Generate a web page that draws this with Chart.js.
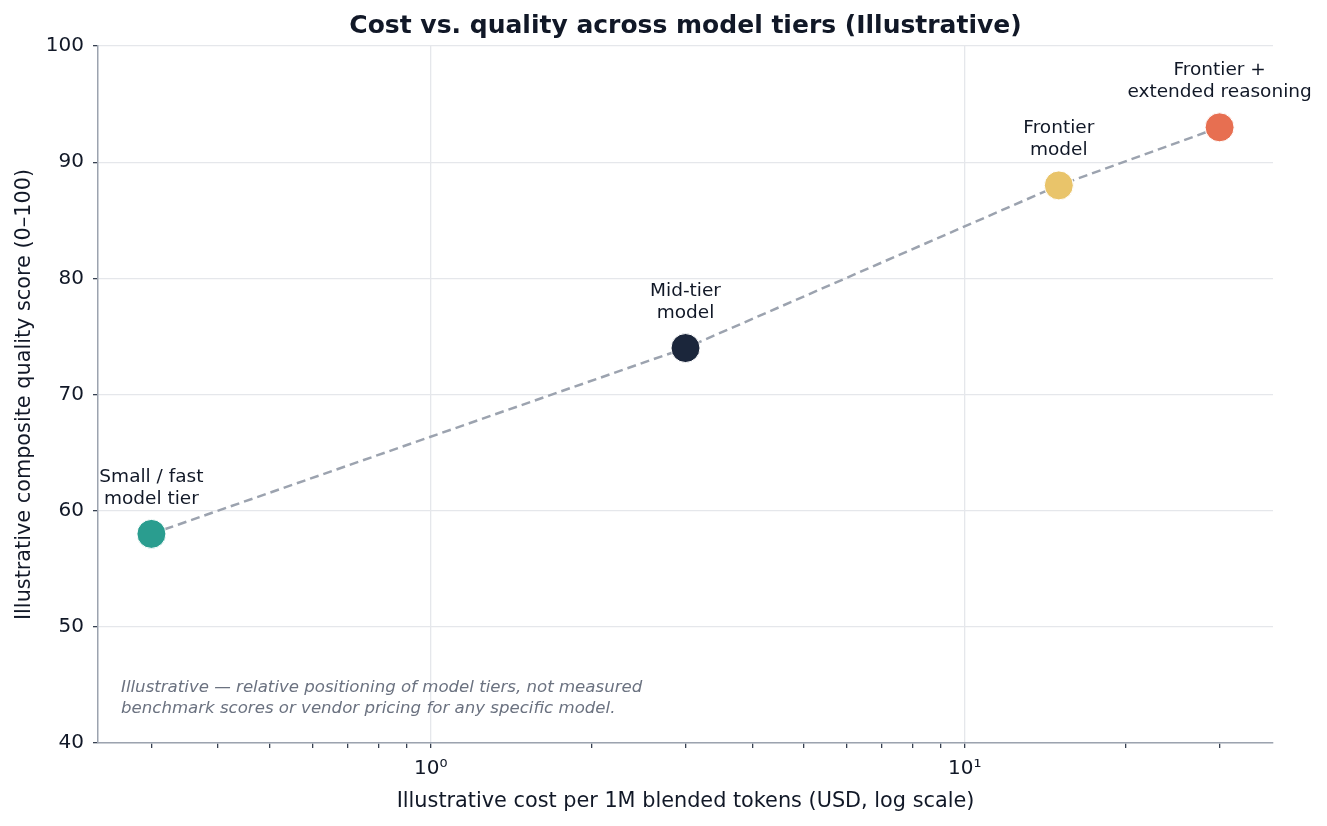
<!DOCTYPE html>
<html>
<head>
<meta charset="utf-8">
<script src="https://cdn.jsdelivr.net/npm/chart.js@4/dist/chart.umd.min.js"></script>
<style>
  html, body { margin: 0; padding: 0; background: #fff; }
  #wrap { width: 1327px; height: 826px; }
</style>
</head>
<body>
<div id="wrap"><canvas id="c" width="1327" height="826"></canvas></div>
<script>
// model tiers (illustrative)
const tierNames = [["Small / fast", "model tier"], ["Mid-tier", "model"], ["Frontier", "model"], ["Frontier +", "extended reasoning"]];
const costs = [0.3, 3, 15, 30];
const quality = [58, 74, 88, 93];
const tierColors = ["#2a9d8f", "#1b263b", "#e9c46a", "#e76f51"];
const xTicks = [0.3, 0.4, 0.5, 0.6, 0.7, 0.8, 0.9, 1, 2, 3, 4, 5, 6, 7, 8, 9, 10, 20, 30];
const yTicks = [40, 50, 60, 70, 80, 90, 100];

const textColor = "#111827";
const gridColor = "#e5e7eb";
const spineColor = "#9ca3af";
const font = "'DejaVu Sans', sans-serif";

const points = costs.map((c, i) => ({ x: c, y: quality[i] }));

// titre, etiquettes, note
const annotations = {
    id: "annotations",
    afterDatasetsDraw(chart) {
        const { ctx, chartArea, scales } = chart;
        ctx.save();
        ctx.fillStyle = textColor;
        ctx.textAlign = "center";
        ctx.textBaseline = "middle";
        ctx.font = "18.5px " + font;
        points.forEach((p, i) => {
            const px = scales.x.getPixelForValue(p.x);
            const py = scales.y.getPixelForValue(p.y);
            ctx.fillText(tierNames[i][0], px, py - 57);
            ctx.fillText(tierNames[i][1], px, py - 35);
        });

        ctx.font = "bold 25px " + font;
        ctx.fillText("Cost vs. quality across model tiers (Illustrative)", (chartArea.left + chartArea.right) / 2, 26);

        ctx.fillStyle = "#6b7280";
        ctx.textAlign = "left";
        ctx.font = "italic 16.6px " + font;
        ctx.fillText("Illustrative \u2014 relative positioning of model tiers, not measured", chartArea.left + 23, chartArea.bottom - 55);
        ctx.fillText("benchmark scores or vendor pricing for any specific model.", chartArea.left + 23, chartArea.bottom - 34);
        ctx.restore();
    }
};

new Chart(document.getElementById("c"), {
    type: "scatter",
    data: {
        datasets: [{
            data: points,
            showLine: true,
            borderColor: spineColor,
            borderWidth: 2.5,
            borderDash: [9, 5],
            pointRadius: 0,
            order: 2
        }, {
            data: points,
            showLine: false,
            pointRadius: 14.5,
            pointBackgroundColor: tierColors,
            pointBorderColor: "#ffffff",
            pointBorderWidth: 1,
            order: 1
        }]
    },
    options: {
        responsive: false,
        animation: false,
        layout: { padding: { top: 46, right: 54, left: 0, bottom: 0 } },
        plugins: { legend: { display: false }, tooltip: { enabled: false }, title: { display: false } },
        scales: {
            x: {
                type: "logarithmic",
                min: Math.pow(10, -0.6229),
                max: Math.pow(10, 1.5771),
                afterBuildTicks: (scale) => { scale.ticks = xTicks.map(v => ({ value: v })); },
                afterFit: (scale) => { scale.height = 83; },
                ticks: {
                    autoSkip: false,
                    maxRotation: 0,
                    color: textColor,
                    font: { family: font, size: 20 },
                    padding: 9,
                    callback: (v) => v === 1 ? "10\u2070" : (v === 10 ? "10\u00b9" : "")
                },
                grid: {
                    color: (c) => (c.tick && (c.tick.value === 1 || c.tick.value === 10)) ? gridColor : "rgba(0,0,0,0)",
                    lineWidth: 1.3,
                    tickColor: "#374151",
                    tickLength: 5
                },
                border: { color: spineColor, width: 1.5 },
                title: {
                    display: true,
                    text: "Illustrative cost per 1M blended tokens (USD, log scale)",
                    color: textColor,
                    font: { family: font, size: 20.8 },
                    padding: { top: 4, bottom: 12 }
                }
            },
            y: {
                min: 40,
                max: 100,
                afterBuildTicks: (scale) => { scale.ticks = yTicks.map(v => ({ value: v })); },
                afterFit: (scale) => { scale.width = 98; },
                ticks: {
                    color: textColor,
                    font: { family: font, size: 20 },
                    padding: 9
                },
                grid: { color: gridColor, lineWidth: 1.3, tickColor: "#374151", tickLength: 5 },
                border: { color: spineColor, width: 1.5 },
                title: {
                    display: true,
                    text: "Illustrative composite quality score (0\u2013100)",
                    color: textColor,
                    font: { family: font, size: 20.8 },
                    padding: { top: 12, bottom: 0 }
                }
            }
        }
    },
    plugins: [annotations]
});
</script>
</body>
</html>
